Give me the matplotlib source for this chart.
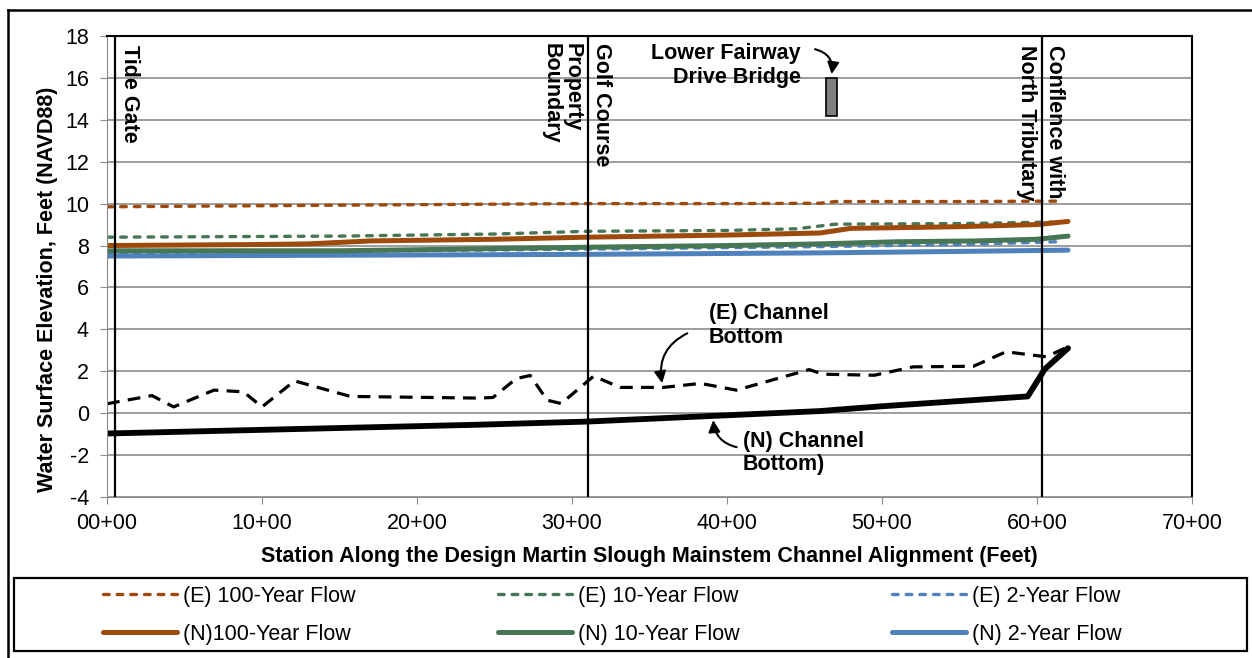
import matplotlib
matplotlib.use("Agg")
import matplotlib.pyplot as plt
from matplotlib.patches import Rectangle, FancyArrowPatch
from matplotlib.lines import Line2D
from matplotlib.ticker import FuncFormatter

plt.rcParams['font.family'] = ['Liberation Sans', 'DejaVu Sans']
plt.rcParams['axes.unicode_minus'] = False

# station (ft) / elevation (ft NAVD88)
e100_x = [0, 1000, 2000, 3000, 4000, 4600, 4700, 5500, 6140]
e100_y = [9.85, 9.9, 9.95, 10.0, 10.0, 10.02, 10.1, 10.1, 10.12]
n100_x = [0, 1000, 1300, 1700, 2500, 3100, 4000, 4600, 4800, 5500, 6000, 6200]
n100_y = [8.0, 8.05, 8.08, 8.22, 8.3, 8.4, 8.5, 8.6, 8.82, 8.9, 9.0, 9.15]
e10_x = [0, 1500, 2500, 3100, 4000, 4450, 4700, 5500, 6100]
e10_y = [8.4, 8.45, 8.55, 8.68, 8.72, 8.8, 9.02, 9.05, 9.12]
n10_x = [0, 1500, 2000, 3100, 4000, 4600, 5100, 5600, 6000, 6200]
n10_y = [7.75, 7.75, 7.8, 7.92, 8.0, 8.08, 8.18, 8.22, 8.3, 8.45]
e2_x = [0, 1500, 3100, 4600, 5500, 6130]
e2_y = [7.65, 7.72, 7.83, 7.95, 8.05, 8.18]
n2_x = [0, 2000, 3100, 4600, 5500, 6200]
n2_y = [7.5, 7.55, 7.58, 7.65, 7.72, 7.78]

ech_x = [0, 290, 430, 690, 880, 1000, 1210, 1570, 2400, 2490, 2640, 2730, 2840, 2930,
         3140, 3310, 3590, 3830, 4060, 4530, 4620, 4950, 5200, 5590, 5800, 6060, 6200]
ech_y = [0.45, 0.84, 0.3, 1.1, 1.02, 0.3, 1.54, 0.8, 0.72, 0.75, 1.65, 1.8, 0.62, 0.46,
         1.77, 1.23, 1.23, 1.42, 1.1, 2.08, 1.86, 1.81, 2.21, 2.24, 2.93, 2.69, 3.17]
nch_x = [0, 2400, 3100, 4600, 4700, 5000, 5940, 6050, 6200]
nch_y = [-0.97, -0.55, -0.4, 0.1, 0.16, 0.33, 0.8, 2.1, 3.1]

markers_x = [50, 3100, 6030]
bridge_x = [4640, 4710]
bridge_y = [14.2, 16.0]

c_or = '#9E4A0C'
c_gr = '#467654'
c_bl = '#4F81BD'
fs = 15.5

fig = plt.figure(figsize=(12.52, 6.58), dpi=100)
ax = fig.add_axes([107/1252, 1-497/658, (1192-107)/1252, (497-36)/658])

ax.set_xlim(0, 7000)
ax.set_ylim(-4, 18)
ax.set_yticks(range(-4, 19, 2))
ax.set_xticks(range(0, 7001, 1000))
ax.xaxis.set_major_formatter(FuncFormatter(lambda v, p: f"{int(v // 100):02d}+00"))
ax.grid(axis='y', color='#8c8c8c', lw=1.2)
ax.set_axisbelow(True)
for s in ['left', 'bottom']:
    ax.spines[s].set_color('#8c8c8c')
for s in ['top', 'right']:
    ax.spines[s].set_color('black')
    ax.spines[s].set_linewidth(1.5)
ax.tick_params(axis='both', colors='#8c8c8c', labelcolor='black', labelsize=fs, length=5)
ax.tick_params(axis='y', pad=8)
ax.tick_params(axis='x', pad=6.5)

dash_e = dict(lw=2.4, dashes=(1.7, 2.4), dash_capstyle='round')
l_e100, = ax.plot(e100_x, e100_y, color=c_or, **dash_e)
l_e10, = ax.plot(e10_x, e10_y, color=c_gr, **dash_e)
l_e2, = ax.plot(e2_x, e2_y, color=c_bl, **dash_e)
solid_n = dict(lw=3.6, solid_capstyle='round')
l_n2, = ax.plot(n2_x, n2_y, color=c_bl, **solid_n)
l_n10, = ax.plot(n10_x, n10_y, color=c_gr, **solid_n)
l_n100, = ax.plot(n100_x, n100_y, color=c_or, **solid_n)

ax.plot(ech_x, ech_y, color='black', lw=2.3, dashes=(4, 2.6))
ax.plot(nch_x, nch_y, color='black', lw=4.2, solid_capstyle='round')

for mx in markers_x:
    ax.axvline(mx, color='black', lw=1.6)

ax.add_patch(Rectangle((bridge_x[0], bridge_y[0]), bridge_x[1] - bridge_x[0],
                       bridge_y[1] - bridge_y[0], facecolor='#808080',
                       edgecolor='black', lw=1.2, zorder=3))

bold = dict(fontweight='bold', fontsize=fs)
ax.text(75, 17.55, 'Tide Gate', rotation=270, ha='left', va='top', **bold)
ax.text(3123, 17.65, 'Golf Course', rotation=270, ha='left', va='top', **bold)
ax.text(3071, 17.65, 'Property\nBoundary', rotation=270, ha='right', va='top',
        multialignment='left', linespacing=1.05, **bold)
ax.text(6045, 17.55, 'Conflence with', rotation=270, ha='left', va='top', **bold)
ax.text(6000, 17.55, 'North Tributary', rotation=270, ha='right', va='top', **bold)
ax.text(4477, 16.6, 'Lower Fairway\nDrive Bridge', ha='right', va='center',
        multialignment='right', linespacing=1.17, **bold)
ax.text(3884, 4.2, '(E) Channel\nBottom', ha='left', va='center',
        multialignment='left', linespacing=1.17, **bold)
ax.text(4103, -1.91, '(N) Channel\nBottom)', ha='left', va='center',
        multialignment='left', linespacing=1.12, **bold)

arrow_kw = dict(arrowstyle='-|>,head_length=0.5,head_width=0.25', color='black',
                lw=1.5, mutation_scale=14)
ax.add_patch(FancyArrowPatch((4550, 17.4), (4672, 16.05),
                             connectionstyle='arc3,rad=-0.5', **arrow_kw))
ax.add_patch(FancyArrowPatch((3760, 3.87), (3585, 1.3),
                             connectionstyle='arc3,rad=0.4', **arrow_kw))
ax.add_patch(FancyArrowPatch((4080, -1.65), (3910, -0.2),
                             connectionstyle='arc3,rad=-0.4', **arrow_kw))

ax.set_ylabel('Water Surface Elevation, Feet (NAVD88)', fontsize=fs, fontweight='bold')
ax.yaxis.set_label_coords(-0.045, 0.451)
ax.set_xlabel('Station Along the Design Martin Slough Mainstem Channel Alignment (Feet)',
              fontsize=fs, fontweight='bold', labelpad=9)

# legend: one column per flow, placed like the original
columns = [([l_e100, l_n100], ['(E) 100-Year Flow', '(N)100-Year Flow'], 103),
           ([l_e10, l_n10], ['(E) 10-Year Flow', '(N) 10-Year Flow'], 498),
           ([l_e2, l_n2], ['(E) 2-Year Flow', '(N) 2-Year Flow'], 892)]
for hs, ls, px in columns:
    fig.legend(hs, ls, loc='upper left', bbox_to_anchor=(px/1252, 1-586/658),
               frameon=False, fontsize=fs, borderpad=0, borderaxespad=0,
               handlelength=3.44, handletextpad=0.28, labelspacing=0.77)

# legend frame and outer border
fig.add_artist(Rectangle((14/1252, 1-651/658), (1247-14)/1252, 73/658,
                         transform=fig.transFigure, fill=False, edgecolor='black', lw=1.6))
fig.add_artist(Line2D([8/1252, 8/1252], [0, 1-10/658], transform=fig.transFigure,
                      color='black', lw=1.8))
fig.add_artist(Line2D([8/1252, 1], [1-10/658, 1-10/658], transform=fig.transFigure,
                      color='black', lw=1.8))

fig.savefig('out.png', dpi=100)
